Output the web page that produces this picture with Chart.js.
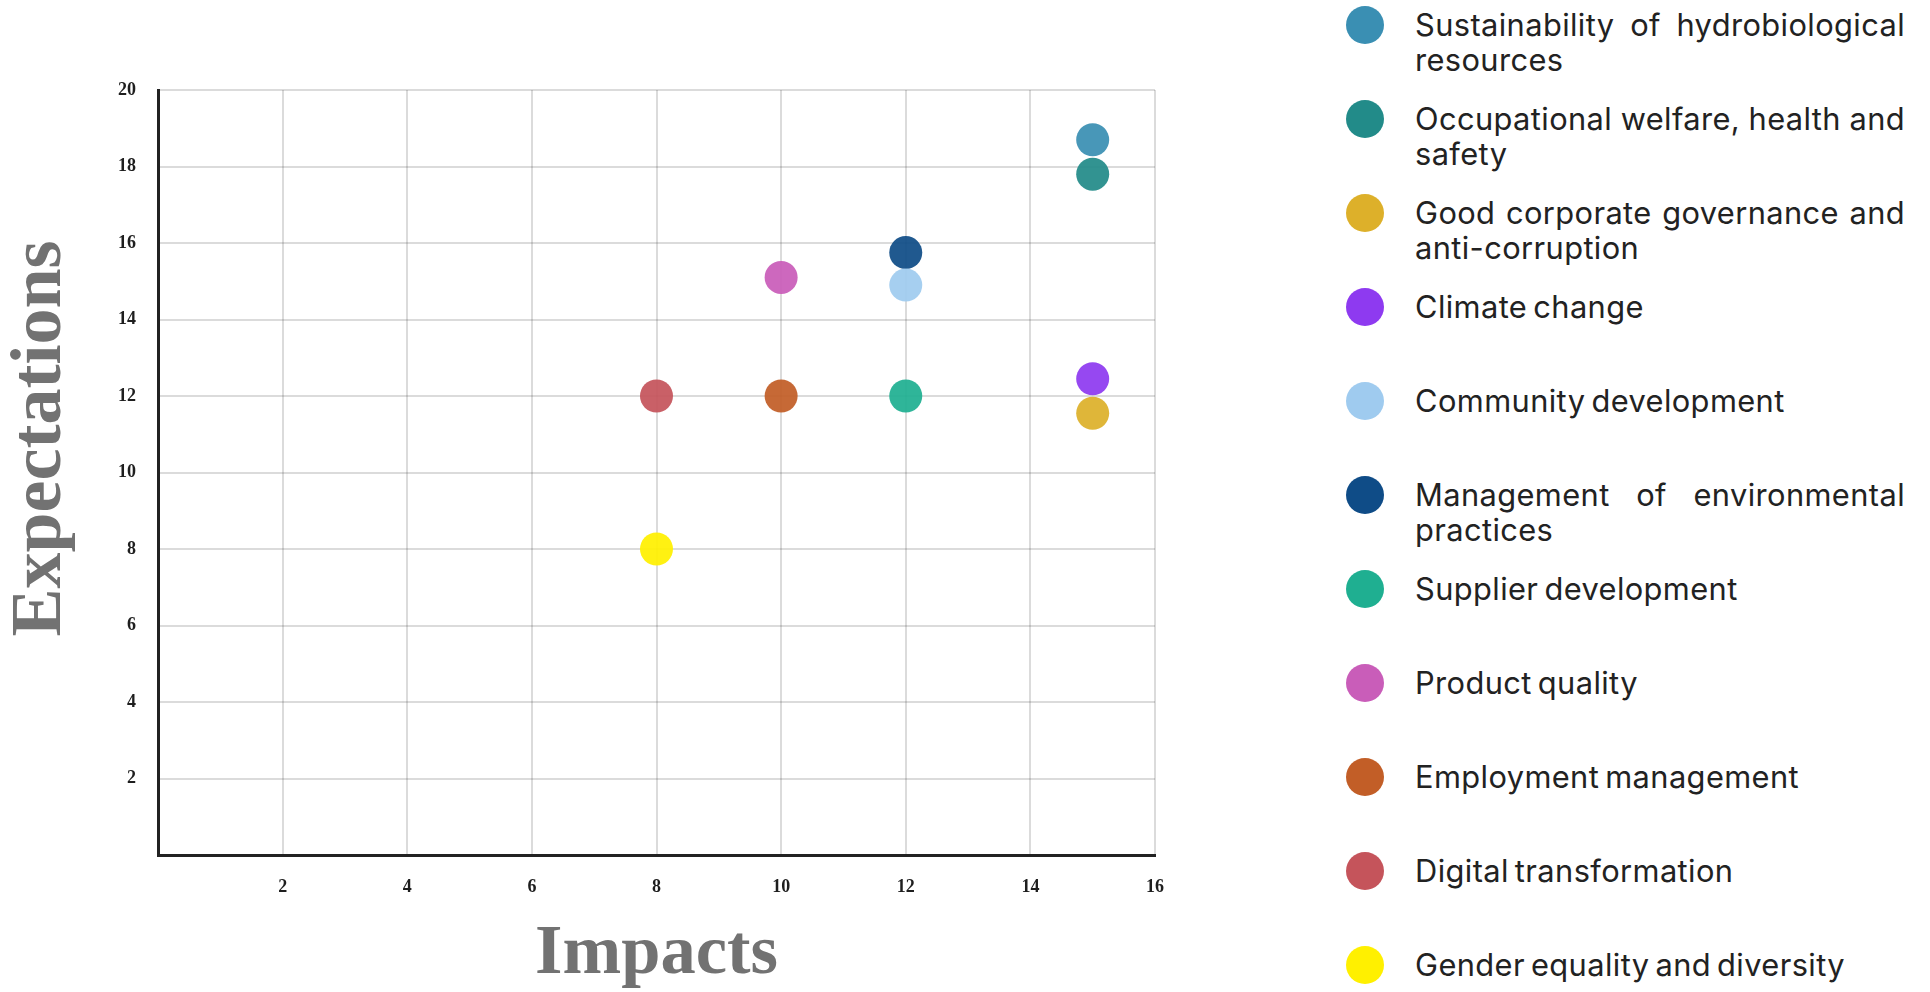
<!DOCTYPE html>
<html>
<head>
<meta charset="utf-8">
<script src="https://cdn.jsdelivr.net/npm/chart.js@4.4.1/dist/chart.umd.min.js"></script>
<style>
  html, body { margin: 0; padding: 0; background: #ffffff; }
  #wrap { position: relative; width: 1930px; height: 992px; overflow: hidden; }
  #chartBox { position: absolute; left: 0; top: 0; width: 1200px; height: 992px; }
  #legend {
    position: absolute; left: 1346px; top: 6px; width: 560px;
    font-family: Inter, "Noto Sans", sans-serif; color: #222222;
  }
  #legend .row { display: flex; align-items: flex-start; height: 94px; }
  #legend .dot { flex: 0 0 38px; width: 38px; height: 38px; border-radius: 50%; }
  #legend .txt {
    margin-left: 31px; margin-top: 2px; width: 490px;
    font-size: 30.8px; line-height: 34.5px; letter-spacing: 0.4px; word-spacing: -3px;
    text-align: justify; font-weight: 400;
  }
</style>
</head>
<body>
<div id="wrap">
  <div id="chartBox"><canvas id="chart" width="1200" height="992"></canvas></div>
  <div id="legend"></div>
</div>
<script>
// Material topics: impact score (x) and stakeholder expectation score (y)
const categories = [
  "Sustainability of hydrobiological resources",
  "Occupational welfare, health and safety",
  "Good corporate governance and anti-corruption",
  "Climate change",
  "Community development",
  "Management of environmental practices",
  "Supplier development",
  "Product quality",
  "Employment management",
  "Digital transformation",
  "Gender equality and diversity"
];
const impacts      = [15, 15, 15, 15, 12, 12, 12, 10, 10, 8, 8];
const expectations = [18.7, 17.8, 11.55, 12.45, 14.9, 15.75, 12, 15.1, 12, 12, 8];
const colors = [
  "#3A8FB3", "#228B89", "#DDB02A", "#8E3AF0", "#9FCBEF", "#0F4C87",
  "#1FAF91", "#C95DB9", "#C25E27", "#C5545B", "#FFF000"
];
const xTicks = [2, 4, 6, 8, 10, 12, 14, 16];
const yTicks = [2, 4, 6, 8, 10, 12, 14, 16, 18, 20];
const xTitle = "Impacts";
const yTitle = "Expectations";

const serif = "'Liberation Serif', 'DejaVu Serif', serif";
const tickFont  = { family: serif, size: 18, weight: "bold" };
const titleColor = "#727272";

function withAlpha(hex, a) {
  const n = parseInt(hex.slice(1), 16);
  return `rgba(${(n >> 16) & 255}, ${(n >> 8) & 255}, ${n & 255}, ${a})`;
}

const datasets = categories.map((name, i) => ({
  label: name,
  data: [{ x: impacts[i], y: expectations[i] }],
  backgroundColor: withAlpha(colors[i], 0.93),
  borderWidth: 0,
  pointRadius: 16.5,
  pointHoverRadius: 16.5
}));

// Vertical axis title, drawn rotated beside the y scale
const yAxisTitle = {
  id: "yAxisTitle",
  afterDraw(chart) {
    const s = chart.scales.y;
    const ctx = chart.ctx;
    ctx.save();
    ctx.translate(s.left + 41.5, (s.top + s.bottom) / 2 - 34);
    ctx.rotate(-Math.PI / 2);
    ctx.font = `bold 72px ${serif}`;
    ctx.fillStyle = titleColor;
    ctx.textAlign = "center";
    ctx.textBaseline = "middle";
    ctx.fillText(yTitle, 0, 0);
    ctx.restore();
  }
};

// Legend list built from the chart's datasets
const htmlLegend = {
  id: "htmlLegend",
  afterUpdate(chart) {
    const box = document.getElementById("legend");
    box.innerHTML = "";
    chart.data.datasets.forEach((ds, i) => {
      const row = document.createElement("div");
      row.className = "row";
      const dot = document.createElement("span");
      dot.className = "dot";
      dot.style.background = colors[i];
      const txt = document.createElement("span");
      txt.className = "txt";
      txt.textContent = ds.label;
      row.appendChild(dot);
      row.appendChild(txt);
      box.appendChild(row);
    });
  }
};

new Chart(document.getElementById("chart"), {
  type: "scatter",
  data: { datasets },
  plugins: [yAxisTitle, htmlLegend],
  options: {
    responsive: false,
    devicePixelRatio: 1,
    animation: false,
    events: [],
    layout: { padding: { top: 90, right: 45, left: 0, bottom: 0 } },
    plugins: {
      legend: { display: false },
      tooltip: { enabled: false }
    },
    scales: {
      x: {
        type: "linear",
        min: 0,
        max: 16,
        afterBuildTicks: (s) => { s.ticks = [0, ...xTicks].map(v => ({ value: v })); },
        afterFit: (s) => { s.height = 137; },
        grid: { color: "rgba(0,0,0,0.14)", lineWidth: 2, drawTicks: false },
        border: { color: "#222222", width: 3 },
        ticks: {
          padding: 22,
          font: tickFont,
          color: "#1e1e1e",
          callback: (v) => (v === 0 ? "" : v)
        },
        title: {
          display: true,
          text: xTitle,
          color: titleColor,
          font: { family: serif, size: 70.5, weight: "bold", lineHeight: 1.05 },
          padding: 0
        }
      },
      y: {
        type: "linear",
        min: 0,
        max: 20,
        afterBuildTicks: (s) => { s.ticks = [0, ...yTicks].map(v => ({ value: v })); },
        afterFit: (s) => { s.width = 158; },
        grid: { color: "rgba(0,0,0,0.14)", lineWidth: 2, drawTicks: false },
        border: { color: "#222222", width: 3 },
        ticks: {
          padding: 22,
          font: tickFont,
          color: "#1e1e1e",
          callback: (v) => (v === 0 ? "" : v)
        },
        title: { display: false }
      }
    }
  }
});
</script>
</body>
</html>
